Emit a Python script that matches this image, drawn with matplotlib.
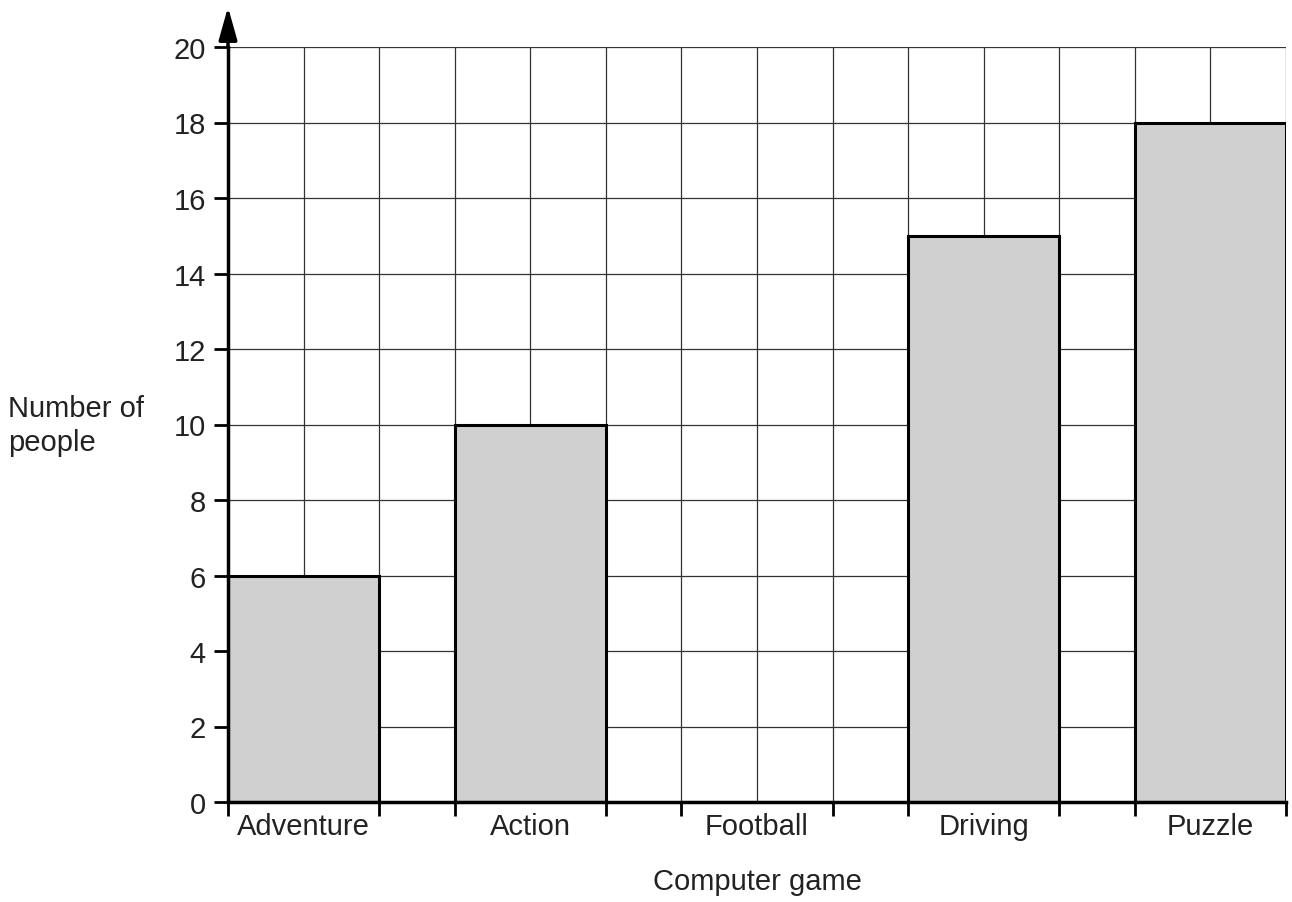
import matplotlib
matplotlib.use('Agg')
import matplotlib.pyplot as plt

games = ['Adventure', 'Action', 'Football', 'Driving', 'Puzzle']
people = [6, 10, 0, 15, 18]
y_ticks = [0, 2, 4, 6, 8, 10, 12, 14, 16, 18, 20]

plt.rcParams['font.family'] = ['Liberation Sans', 'DejaVu Sans']
fs = 21

fig = plt.figure(figsize=(12.92, 9.03), dpi=100)
ax = fig.add_axes([228 / 1292, 100 / 903, 1058 / 1292, 755 / 903])

# each game takes 3 grid columns: 2 for the bar, 1 gap
starts = [3 * i for i in range(len(games))]
centres = [s + 1 for s in starts]
ax.bar(starts, people, width=2, align='edge', color='#d0d0d0',
       edgecolor='black', linewidth=2.2, zorder=3)

# grid
for x in range(1, 15):
    ax.axvline(x, color='#333333', linewidth=0.9, zorder=1)
for y in y_ticks[1:]:
    ax.axhline(y, color='#333333', linewidth=0.9, zorder=1)

ax.set_xlim(0, 14)
ax.set_ylim(0, 20)
ax.set_yticks(y_ticks)
edges = sorted(set(starts + [s + 2 for s in starts]))
ax.set_xticks(edges)
ax.set_xticklabels([])
ax.set_xticks(centres, minor=True)
ax.set_xticklabels(games, minor=True)
ax.tick_params(axis='x', which='minor', length=0, pad=7, labelsize=fs)
ax.tick_params(axis='x', which='major', direction='out', length=10, width=2)
ax.tick_params(axis='y', direction='out', length=10, width=2, labelsize=fs, pad=6)
for lab in ax.get_yticklabels():
    lab.set_color('#222222')
for lab in ax.get_xticklabels(minor=True):
    lab.set_color('#222222')

for side in ['top', 'right']:
    ax.spines[side].set_visible(False)
for side in ['left', 'bottom']:
    ax.spines[side].set_linewidth(2.5)
    ax.spines[side].set_zorder(4)

# arrow on y-axis
ax.annotate('', xy=(0, 21.06), xytext=(0, 20), xycoords='data',
            annotation_clip=False,
            arrowprops=dict(arrowstyle='-|>,head_length=1.0,head_width=0.28',
                            mutation_scale=20, color='black', linewidth=2.5,
                            shrinkA=0, shrinkB=0))

fig.text(8 / 1292, 1 - 417 / 903, 'Number of', fontsize=fs,
         ha='left', va='baseline', color='#222222')
fig.text(8 / 1292, 1 - 451 / 903, 'people', fontsize=fs,
         ha='left', va='baseline', color='#222222')
fig.text(757 / 1292, 1 - 890 / 903, 'Computer game', fontsize=fs,
         ha='center', va='baseline', color='#222222')

fig.savefig('out.png', dpi=100)
